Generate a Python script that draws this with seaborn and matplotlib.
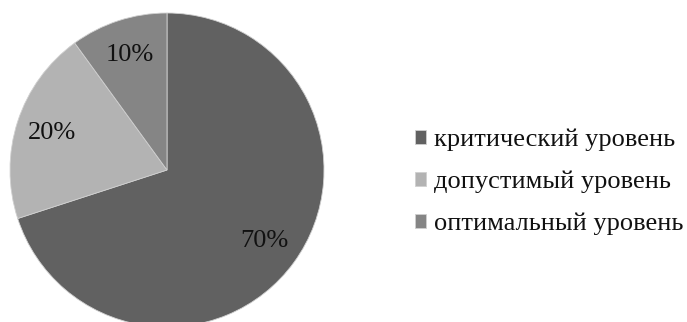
import matplotlib
matplotlib.use("Agg")
import matplotlib.pyplot as plt
import seaborn as sns

categories = ["критический уровень", "допустимый уровень", "оптимальный уровень"]
shares = [70, 20, 10]
colors = ["#616161", "#b3b3b3", "#858585"]

sns.set_theme(style="white")
plt.rcParams["font.family"] = ["Liberation Serif", "DejaVu Serif"]

fig = plt.figure(figsize=(6.87, 3.22), dpi=100)
fig.patch.set_facecolor("white")

cx, cy, r = 167, 170, 157
W, H = 687, 322
ax = fig.add_axes([(cx - r) / W, (H - cy - r) / H, 2 * r / W, 2 * r / H])

wedges, texts, autotexts = ax.pie(
    shares,
    colors=colors,
    startangle=90,
    counterclock=False,
    autopct=lambda p: f"{p:.0f}%",
    pctdistance=0.77,
    wedgeprops=dict(linewidth=0.6, edgecolor="#d0d0d0"),
    textprops=dict(fontsize=19, color="#111111"),
)
ax.set_xlim(-1, 1)
ax.set_ylim(-1, 1)
ax.set_aspect("equal")
ax.axis("off")

leg = fig.legend(
    wedges,
    categories,
    loc="center left",
    bbox_to_anchor=(404 / W, 1 - 182 / H),
    frameon=False,
    fontsize=19,
    handlelength=0.42,
    handleheight=0.42,
    handletextpad=0.32,
    labelspacing=0.74,
    borderaxespad=0,
)
for t in leg.get_texts():
    t.set_color("#111111")

fig.savefig("out.png", dpi=100, facecolor="white")
